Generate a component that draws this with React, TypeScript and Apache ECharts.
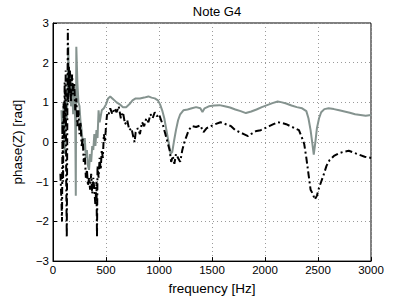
import React, { useEffect, useRef } from "react";
import * as echarts from "echarts";

const greyFreq = [80, 90, 100, 110, 120, 130, 140, 145, 150, 160, 170, 180, 190, 200, 210, 215, 220, 230, 240, 250, 260, 270, 280, 290, 300, 310, 320, 330, 340, 350, 360, 370, 380, 390, 400, 410, 420, 430, 440, 460, 480, 500, 520, 540, 560, 580, 600, 630, 660, 690, 720, 750, 780, 820, 860, 900, 930, 960, 990, 1010, 1030, 1050, 1070, 1090, 1110, 1125, 1140, 1160, 1180, 1200, 1230, 1270, 1310, 1350, 1390, 1410, 1430, 1470, 1520, 1570, 1620, 1670, 1720, 1770, 1820, 1870, 1920, 1970, 2020, 2070, 2120, 2160, 2200, 2250, 2300, 2350, 2390, 2410, 2430, 2445, 2460, 2475, 2490, 2510, 2530, 2560, 2600, 2650, 2700, 2750, 2800, 2850, 2900, 2950, 3000];
const greyPhase = [0.8, 0.2, 0.9, -0.3, 1.0, 0.6, 1.5, 2.4, 1.2, 1.8, 0.9, 1.5, 0.7, 1.3, 0.5, -1.35, 2.4, 1.5, 1.0, 0.9, 0.5, 0.3, 0.0, -0.2, 0.1, -0.4, -0.2, -0.6, -0.7, -0.3, -0.5, -0.1, -0.2, 0.2, -0.1, 0.3, 0.1, 0.8, 0.5, 0.8, 0.85, 0.95, 1.1, 1.15, 1.1, 1.05, 1.0, 0.95, 0.88, 0.88, 0.95, 1.05, 1.1, 1.1, 1.12, 1.15, 1.12, 1.1, 1.05, 0.95, 0.8, 0.6, 0.3, 0.0, -0.3, -0.25, 0.0, 0.3, 0.55, 0.7, 0.8, 0.82, 0.85, 0.88, 0.85, 0.76, 0.85, 0.9, 0.92, 0.93, 0.9, 0.87, 0.82, 0.78, 0.73, 0.77, 0.82, 0.88, 0.93, 0.98, 1.02, 1.0, 0.97, 0.92, 0.88, 0.85, 0.78, 0.6, 0.3, 0.0, -0.32, 0.0, 0.35, 0.6, 0.75, 0.83, 0.85, 0.83, 0.8, 0.77, 0.74, 0.7, 0.68, 0.66, 0.68];

const blackFreq = [70, 80, 85, 90, 95, 100, 105, 110, 115, 120, 125, 130, 135, 140, 145, 150, 155, 160, 170, 180, 190, 200, 210, 220, 230, 240, 250, 260, 270, 280, 290, 300, 310, 320, 330, 340, 350, 360, 370, 380, 390, 400, 410, 415, 420, 430, 440, 450, 460, 470, 480, 490, 500, 510, 520, 540, 560, 580, 600, 620, 640, 660, 680, 700, 720, 740, 760, 770, 780, 800, 820, 840, 860, 880, 900, 920, 940, 960, 980, 1000, 1020, 1040, 1060, 1080, 1100, 1115, 1130, 1145, 1160, 1180, 1200, 1220, 1240, 1260, 1280, 1310, 1350, 1390, 1420, 1450, 1490, 1530, 1580, 1630, 1680, 1720, 1760, 1800, 1840, 1880, 1920, 1960, 2000, 2040, 2080, 2120, 2160, 2200, 2240, 2280, 2320, 2350, 2370, 2390, 2410, 2430, 2450, 2470, 2490, 2510, 2530, 2550, 2580, 2610, 2650, 2700, 2750, 2790, 2840, 2890, 2940, 3000];
const blackPhase = [-0.8, -1.5, -2.0, 0.5, -1.0, 1.0, 0.0, 1.5, 0.5, 1.8, -1.0, -2.4, 0.5, 2.85, 1.0, 1.9, 1.2, 1.8, 1.0, 1.7, 1.2, 1.5, 0.8, 1.1, 0.4, 0.8, 0.2, 0.5, -0.1, 0.1, -0.5, -0.3, -0.9, -0.7, -1.1, -0.9, -1.2, -0.8, -1.3, -0.9, -1.2, -1.6, -1.0, -2.4, -0.6, -0.9, -0.4, -0.7, -0.2, -0.4, 0.2, 0.0, 0.4, 0.7, 0.65, 0.85, 0.7, 0.85, 0.75, 0.9, 0.6, 0.75, 0.45, 0.55, 0.3, 0.35, 0.1, 0.0, 0.25, 0.35, 0.2, 0.5, 0.4, 0.6, 0.5, 0.7, 0.6, 0.75, 0.65, 0.7, 0.55, 0.4, 0.2, 0.0, -0.2, -0.5, -0.35, -0.55, -0.3, -0.4, -0.5, -0.2, 0.0, 0.15, 0.3, 0.4, 0.38, 0.42, 0.25, 0.35, 0.4, 0.45, 0.5, 0.45, 0.4, 0.3, 0.25, 0.2, 0.15, 0.22, 0.28, 0.3, 0.35, 0.4, 0.45, 0.5, 0.48, 0.45, 0.4, 0.35, 0.3, 0.1, -0.05, -0.4, -0.8, -1.2, -1.3, -1.45, -1.35, -1.15, -1.0, -0.85, -0.6, -0.45, -0.35, -0.28, -0.24, -0.22, -0.27, -0.32, -0.37, -0.4];

const titleText = "Note G4";
const xName = "frequency [Hz]";
const yName = "phase(Z) [rad]";

export default function App() {
  const ref = useRef<HTMLDivElement>(null);
  useEffect(() => {
    if (!ref.current) return;
    const chart = echarts.init(ref.current, undefined, { renderer: "svg" });
    const font = "Liberation Sans, Arial, sans-serif";
    chart.setOption({
      animation: false,
      backgroundColor: "#ffffff",
      title: {
        text: titleText,
        left: 212,
        textAlign: "center",
        top: 0,
        textStyle: { fontFamily: font, fontSize: 13, fontWeight: "normal", color: "#000" },
      },
      grid: {
        left: 53,
        right: 38,
        top: 23,
        bottom: 33,
        show: true,
        borderColor: "#000",
        borderWidth: 1,
        backgroundColor: "transparent",
      },
      xAxis: {
        type: "value",
        min: 0,
        max: 3000,
        interval: 500,
        name: xName,
        nameLocation: "middle",
        nameGap: 15,
        nameTextStyle: { fontFamily: font, fontSize: 13.5, color: "#000" },
        axisLine: { show: true, onZero: false, lineStyle: { color: "#000" } },
        axisTick: { show: true, inside: true, length: 4, lineStyle: { color: "#000" } },
        axisLabel: {
          fontFamily: font,
          fontSize: 11.5,
          color: "#000",
          margin: 3,
          formatter: (v: number) => String(v),
        },
        splitLine: { show: true, lineStyle: { color: "#9a9a9a", type: [1, 3], width: 1 } },
      },
      yAxis: {
        type: "value",
        min: -3,
        max: 3,
        interval: 1,
        name: yName,
        nameLocation: "middle",
        nameGap: 21,
        nameTextStyle: { fontFamily: font, fontSize: 13.5, color: "#000" },
        axisLine: { show: true, onZero: false, lineStyle: { color: "#000" } },
        axisTick: { show: true, inside: true, length: 4, lineStyle: { color: "#000" } },
        axisLabel: {
          fontFamily: font,
          fontSize: 11.5,
          color: "#000",
          margin: 4,
          formatter: (v: number) => String(v).replace("-", "\u2212"),
        },
        splitLine: { show: true, lineStyle: { color: "#9a9a9a", type: [1, 3], width: 1 } },
      },
      series: [
        {
          type: "line",
          data: greyFreq.map((f, i) => [f, greyPhase[i]]),
          showSymbol: false,
          symbol: "none",
          lineStyle: { color: "#85938f", width: 2 },
          z: 2,
        },
        {
          type: "line",
          data: blackFreq.map((f, i) => [f, blackPhase[i]]),
          showSymbol: false,
          symbol: "none",
          lineStyle: { color: "#000", width: 2, type: [7, 3, 2, 3] },
          z: 3,
        },
      ],
    });
    return () => chart.dispose();
  }, []);
  return (
    <div
      ref={ref}
      style={{ position: "fixed", left: 0, top: 0, width: 409, height: 300 }}
    />
  );
}
